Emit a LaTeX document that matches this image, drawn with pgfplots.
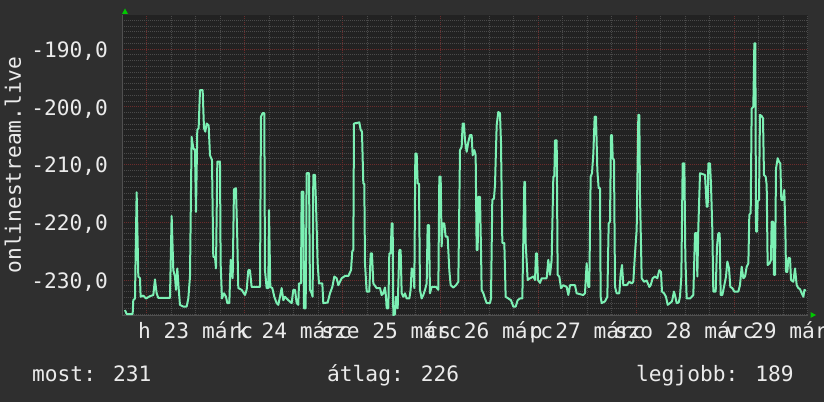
\documentclass[border=0pt]{standalone}
\usepackage{fontspec}
\setmainfont{DejaVu Sans Mono}
\usepackage{pgfplots}
\pgfplotsset{compat=1.18}
\definecolor{outerbg}{RGB}{47,47,47}
\definecolor{plotbg}{RGB}{34,34,34}
\definecolor{linec}{RGB}{124,240,180}
\definecolor{mgrid}{RGB}{108,44,44}
\definecolor{ngrid}{RGB}{74,74,74}
\definecolor{axln}{RGB}{80,80,80}
\definecolor{txt}{RGB}{235,235,235}
\definecolor{arrowg}{RGB}{0,200,0}
\newcommand\rf{\fontsize{21.2pt}{24pt}\selectfont}
\begin{document}
\begin{tikzpicture}
\fill[outerbg] (0pt,0pt) rectangle (824pt,402pt);
\begin{axis}[
  name=ax,
  at={(122.2pt,87pt)}, anchor=south west,
  scale only axis, width=685.3pt, height=300pt,
  xmin=-6, xmax=162, ymin=-236.06, ymax=-184.1,
  axis background/.style={fill=plotbg},
  axis x line*=bottom, axis y line*=left,
  axis line style={draw=axln, line width=1pt},
  xtick={0,24,48,72,96,120,144}, xticklabels={},
  minor xtick={-6,6,12,18,30,36,42,54,60,66,78,84,90,102,108,114,126,132,138,150,156,162},
  extra x ticks={12,36,60,84,108,132,156},
  extra x tick labels={h 23 márc,k 24 márc,sze 25 márc,cs 26 márc,p 27 márc,szo 28 márc,v 29 márc},
  extra x tick style={grid=none, major tick length=0pt},
  ytick={-230,-220,-210,-200,-190},
  yticklabels={{-230,0},{-220,0},{-210,0},{-200,0},{-190,0}},
  minor ytick={-236,-235,...,-185},
  grid=both,
  major grid style={draw=mgrid, dash pattern=on 1pt off 1pt, line width=0.9pt},
  minor grid style={draw=ngrid, dash pattern=on 1pt off 1pt, line width=0.9pt},
  major tick length=0pt, minor tick length=0pt,
  yticklabel style={font=\rf, text=txt, inner sep=0pt, anchor=base east, xshift=-14pt, yshift=-8.3pt},
  xticklabel style={font=\rf, text=txt, inner sep=0pt, anchor=base, yshift=-23.3pt},
  ylabel={onlinestream.live},
  ylabel style={font=\rf, text=txt, at={(axis description cs:-0.1594,0.5)}, anchor=center},
]
\addplot[linec, line width=2pt, mark=none, line join=round] table {
-5.32 -235.2
-4.91 -235.9
-3.44 -235.9
-3.28 -233.5
-2.87 -233.2
-2.46 -214.8
-2.05 -229.4
-1.64 -229.7
-1.48 -232.9
-0.83 -232.7
-0.17 -233.2
0.81 -232.8
1.63 -232.6
2.03 -229.9
2.44 -232.3
2.85 -233.1
5.71 -233.1
6.12 -218.9
6.53 -228.3
6.94 -229.4
7.18 -231.7
7.51 -228.0
7.84 -231.4
8.16 -234.3
8.98 -234.6
9.80 -234.6
10.21 -233.2
10.62 -229.4
11.02 -205.2
11.43 -207.2
11.84 -207.5
12.09 -218.2
12.41 -204.0
12.74 -203.7
13.07 -197.1
13.72 -197.1
14.05 -203.7
14.37 -204.3
14.70 -202.9
15.19 -203.2
15.52 -208.4
16.01 -209.2
16.33 -226.0
16.74 -226.0
16.99 -228.0
17.32 -209.5
17.97 -209.5
18.13 -227.1
18.46 -233.2
18.95 -232.3
19.44 -232.9
19.77 -234.0
20.26 -234.0
20.59 -226.5
21.08 -229.7
21.40 -214.3
21.89 -214.1
22.22 -223.1
22.46 -231.4
23.28 -231.7
24.10 -232.6
24.51 -231.7
24.92 -228.3
25.32 -228.3
25.73 -231.2
27.78 -231.2
28.02 -201.7
28.43 -201.1
28.84 -201.1
29.00 -228.3
29.41 -231.4
29.82 -231.4
29.98 -217.9
30.31 -231.2
30.80 -231.4
31.29 -232.9
31.86 -234.0
32.27 -234.3
32.68 -232.9
33.09 -231.4
33.50 -233.5
33.91 -232.9
34.72 -233.5
35.54 -234.0
35.95 -231.7
36.36 -231.7
36.77 -234.0
37.17 -234.3
37.34 -230.6
37.83 -230.6
37.99 -214.7
38.40 -214.7
38.56 -234.9
38.97 -234.9
39.22 -211.5
39.79 -211.5
40.03 -231.7
40.44 -232.3
40.69 -232.9
40.85 -211.8
41.26 -211.8
41.51 -216.7
41.91 -227.1
42.24 -230.6
43.06 -230.6
43.30 -234.0
44.37 -233.9
44.94 -232.3
45.51 -231.2
46.00 -229.4
46.57 -229.7
46.98 -230.9
47.39 -230.3
47.80 -229.7
48.61 -229.3
49.43 -229.3
50.09 -228.3
50.41 -225.0
50.66 -224.8
50.82 -202.9
52.13 -202.7
52.46 -204.0
52.78 -204.3
53.11 -213.3
53.35 -213.3
53.52 -227.1
53.93 -232.0
54.58 -232.0
54.91 -225.4
55.23 -225.4
55.56 -230.6
56.38 -231.4
57.20 -231.4
57.60 -232.6
58.01 -232.3
58.42 -231.3
58.67 -232.9
58.83 -234.9
59.24 -234.9
59.48 -225.4
59.81 -225.4
60.06 -220.2
60.30 -220.2
60.46 -236.1
60.87 -235.9
61.12 -232.9
61.53 -234.9
61.93 -224.8
62.26 -224.8
62.51 -232.3
62.92 -232.9
63.32 -232.3
63.73 -233.2
64.39 -233.2
64.71 -231.7
64.96 -228.0
65.37 -228.3
65.61 -231.4
65.86 -208.1
66.19 -208.1
66.43 -213.3
66.76 -213.3
67.00 -231.7
67.41 -233.2
67.82 -232.6
68.23 -231.7
68.64 -230.6
68.88 -220.5
69.21 -220.5
69.45 -232.3
69.86 -231.2
70.92 -231.2
71.50 -231.7
71.74 -212.1
72.07 -212.1
72.31 -224.2
72.56 -220.2
72.97 -220.2
73.29 -222.5
73.78 -222.5
74.19 -228.3
74.52 -230.9
75.17 -231.3
75.83 -230.9
76.40 -230.3
76.81 -207.5
77.22 -206.9
77.46 -202.9
77.79 -202.9
78.03 -205.8
78.44 -207.8
78.85 -206.1
79.26 -204.9
79.67 -204.9
79.91 -208.4
80.32 -207.5
80.65 -208.4
80.89 -224.8
81.14 -224.8
81.30 -215.6
81.71 -215.6
81.96 -224.8
82.12 -231.7
82.53 -232.3
82.94 -233.2
83.35 -234.0
84.16 -234.0
84.41 -233.2
84.73 -216.1
85.14 -215.9
85.39 -213.5
85.80 -203.2
86.20 -200.9
86.61 -201.1
86.86 -206.3
87.19 -223.6
87.68 -223.6
88.00 -232.9
88.66 -233.2
89.31 -233.5
89.88 -234.6
90.46 -234.6
90.95 -233.5
91.52 -233.2
92.09 -233.2
92.33 -223.1
92.58 -213.0
92.74 -213.0
92.91 -223.6
93.40 -230.0
93.97 -229.7
94.79 -229.4
95.20 -230.0
95.44 -225.4
95.69 -225.4
95.93 -230.0
96.42 -230.5
96.83 -229.7
98.05 -229.7
98.46 -226.5
98.87 -229.1
99.28 -226.5
99.69 -212.1
99.93 -212.1
100.10 -205.8
100.51 -205.8
100.75 -229.1
101.16 -229.4
101.57 -231.4
102.14 -230.9
102.96 -231.2
103.37 -232.6
103.78 -230.9
105.00 -230.9
105.41 -232.3
107.04 -232.6
107.45 -232.3
107.86 -227.1
108.27 -231.2
108.51 -231.2
108.84 -212.1
109.17 -211.5
109.50 -208.1
109.82 -201.7
110.15 -201.7
110.48 -211.0
110.80 -214.1
111.13 -214.1
111.29 -232.9
111.54 -234.0
112.36 -233.7
112.93 -232.9
113.26 -220.2
113.58 -219.9
113.83 -204.9
114.07 -204.9
114.24 -208.9
114.56 -209.2
114.81 -231.2
115.22 -232.3
115.87 -232.3
116.20 -228.9
116.53 -227.4
116.85 -230.9
117.67 -230.9
118.32 -230.3
118.89 -230.6
119.30 -230.3
119.71 -225.4
120.12 -221.3
120.53 -201.4
120.77 -201.4
120.94 -215.6
121.35 -229.7
121.92 -230.3
122.57 -230.1
123.23 -231.2
123.55 -230.9
124.04 -229.7
124.61 -229.4
125.18 -229.7
125.67 -228.3
126.08 -228.6
126.33 -232.0
126.82 -232.3
127.31 -232.9
127.72 -234.3
128.29 -234.0
128.78 -233.7
129.27 -232.0
129.60 -232.9
129.92 -234.0
130.42 -233.9
130.74 -232.9
131.07 -229.4
131.40 -209.8
131.81 -209.8
132.05 -226.0
132.38 -233.2
133.20 -233.2
134.01 -232.6
134.42 -221.9
134.83 -221.9
134.99 -229.4
135.24 -220.8
135.65 -211.5
136.87 -211.8
137.28 -217.3
137.53 -217.3
137.69 -209.8
138.10 -209.8
138.34 -213.5
138.67 -221.3
138.91 -232.0
139.49 -232.0
139.81 -224.2
140.14 -221.9
140.47 -221.9
140.71 -232.6
141.12 -232.6
141.61 -230.9
142.02 -229.4
142.35 -226.8
142.76 -228.0
143.08 -231.2
143.57 -231.4
144.06 -232.0
145.04 -232.0
145.45 -230.9
145.86 -227.7
146.27 -229.7
146.68 -229.4
147.09 -227.7
147.50 -227.1
147.74 -218.7
148.07 -218.4
148.31 -200.3
148.72 -200.0
148.97 -189.0
149.21 -189.0
149.38 -221.6
149.62 -221.6
149.78 -216.4
150.11 -216.1
150.35 -201.4
150.76 -201.6
151.09 -202.0
151.33 -211.8
151.74 -212.1
151.99 -213.5
152.23 -227.4
152.72 -227.1
153.05 -226.5
153.21 -219.9
153.54 -219.9
153.79 -229.1
154.03 -229.1
154.28 -210.7
154.69 -208.9
155.01 -209.5
155.34 -209.8
155.58 -216.1
155.99 -216.1
156.32 -214.4
156.57 -221.3
156.73 -228.6
157.06 -228.6
157.31 -226.2
157.71 -226.2
157.96 -230.0
158.53 -230.3
158.94 -228.0
159.35 -230.9
159.76 -231.4
160.17 -231.6
160.58 -232.3
160.99 -232.9
161.24 -231.7
161.57 -231.9
};
\end{axis}
\fill[arrowg] (122pt,388pt) -- (128pt,388pt) -- (125pt,393.5pt) -- cycle;
\fill[arrowg] (810.5pt,84pt) -- (810.5pt,90pt) -- (816pt,87pt) -- cycle;
\node[anchor=base west, inner sep=0pt, font=\rf, text=txt] at (32pt,21pt) {most: 231};
\node[anchor=base west, inner sep=0pt, font=\rf, text=txt] at (327pt,21pt) {átlag: 226};
\node[anchor=base west, inner sep=0pt, font=\rf, text=txt] at (636pt,21pt) {legjobb: 189};
\pgfresetboundingbox
\path[use as bounding box] (0pt,0pt) rectangle (824pt,402pt);
\end{tikzpicture}
\end{document}
